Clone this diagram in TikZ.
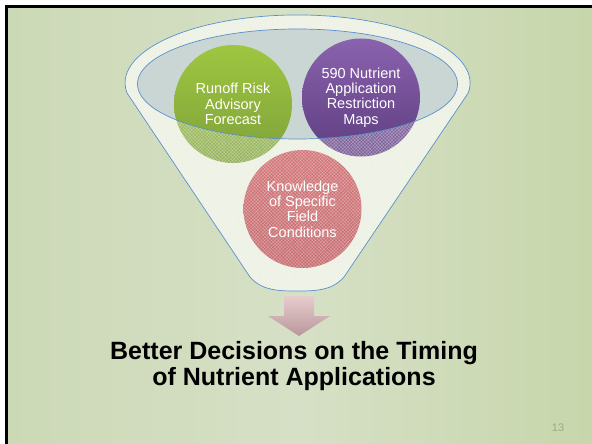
\documentclass[tikz,border=0pt]{standalone}
\usepackage{fontspec}
\setmainfont{Liberation Sans}
\usetikzlibrary{patterns,patterns.meta}
\definecolor{bgL}{HTML}{CCD9B6}
\definecolor{bgM}{HTML}{D6E0C6}
\definecolor{bgR}{HTML}{C7D6AB}
\definecolor{funnelfill}{HTML}{E8EEDD}
\definecolor{innerfill}{HTML}{CAD6D3}
\definecolor{outline}{HTML}{5B8FCB}
\definecolor{greenT}{HTML}{9FC640}
\definecolor{greenB}{HTML}{7EA13A}
\definecolor{purpT}{HTML}{8A62AE}
\definecolor{purpB}{HTML}{5E3E80}
\definecolor{redT}{HTML}{C9585B}
\definecolor{redB}{HTML}{BA4D51}
\definecolor{arrT}{HTML}{EACBD0}
\definecolor{arrB}{HTML}{B58F97}
\definecolor{pagenum}{HTML}{9CA98C}
\tikzset{
  circ/.style={circle, minimum size=118pt, inner sep=0pt, align=center,
    text=white, font=\fontsize{14.5}{15.4}\selectfont},
  outl/.style={draw=outline, line width=0.7pt},
}
\def\funnelpath{(127,93) arc[start angle=171.5, end angle=368.5, x radius=172.5, y radius=68]
  -- (344,277) .. controls (332,291) and (314,291) .. (297,291)
  .. controls (280,291) and (262,291) .. (250,277) -- cycle}
\def\innerpath{(297.5,84) ellipse [x radius=160, y radius=55]}
\begin{document}
\begin{tikzpicture}[x=1pt,y=-1pt]
\useasboundingbox (0,0) rectangle (592,444);
\fill[white] (0,0) rectangle (592,444);
\shade[left color=bgL, right color=bgR, middle color=bgM] (6,6) rectangle (592,444);
\draw[line width=2.5pt] (6.5,444) -- (6.5,6.5) -- (592,6.5);
% funnel body
\fill[funnelfill] \funnelpath;
\fill[innerfill] \innerpath;
% circles
\node[circ, top color=greenT, bottom color=greenB] (green) at (233,104)
  {Runoff Risk\\Advisory\\Forecast};
\node[circ, top color=purpT, bottom color=purpB] (purple) at (361,97.5)
  {590 Nutrient\\Application\\Restriction\\Maps};
\node[circ, top color=redT, bottom color=redB] (red) at (302.5,209)
  {Knowledge\\of Specific\\Field\\Conditions};
% overlay of funnel wall on the circles
\fill[white, opacity=0.18, even odd rule] \funnelpath \innerpath;
\fill[pattern={Lines[angle=45,distance=2.4pt,line width=0.5pt]}, pattern color=white,
  opacity=0.3, even odd rule] \funnelpath \innerpath;
\fill[pattern={Lines[angle=-45,distance=2.4pt,line width=0.5pt]}, pattern color=white,
  opacity=0.3, even odd rule] \funnelpath \innerpath;
% outlines
\draw[outl] \funnelpath;
\draw[outl] \innerpath;
% arrow
\shade[top color=arrT, bottom color=arrB, opacity=0.9]
  (284,296) -- (314,296) -- (314,316) -- (330,316) -- (299,336) -- (268,316) -- (284,316) -- cycle;
% title
\node[font=\bfseries\fontsize{25}{25.5}\selectfont, align=center] (title) at (294,366)
  {Better Decisions on the Timing\\of Nutrient Applications};
\node[text=pagenum, font=\fontsize{11}{12}\selectfont] (num) at (558,428) {13};
\end{tikzpicture}
\end{document}
